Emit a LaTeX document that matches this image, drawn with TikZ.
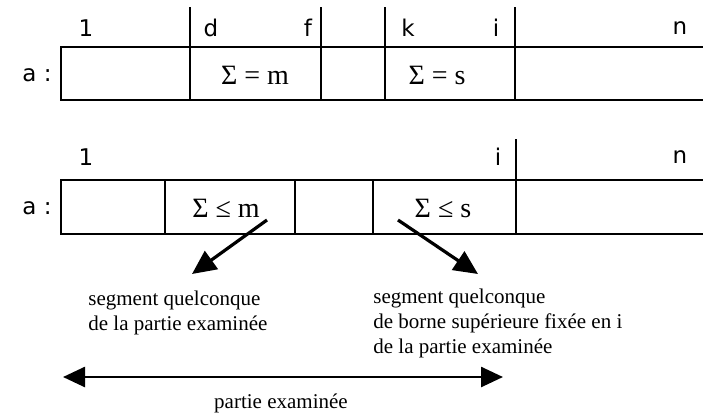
\documentclass[tikz,border=0pt]{standalone}
\usepackage{fontspec}
\setmainfont{Liberation Serif}
\newfontfamily\idxfont{DejaVu Sans}
\usetikzlibrary{arrows.meta,positioning}
\tikzset{
  cell/.style={line width=1.1pt},
  idx/.style={font=\idxfont\fontsize{11.5}{13}\selectfont, inner sep=0pt},
  sumlab/.style={font=\fontsize{14}{16}\selectfont, inner sep=0pt},
  note/.style={align=left, inner sep=0pt, font=\fontsize{10.5}{12.5}\selectfont},
  pointer/.style={line width=1.6pt, -{Triangle[length=12pt,width=11pt]}},
  span/.style={line width=1.3pt, {Triangle[length=11pt,width=10pt]}-{Triangle[length=11pt,width=10pt]}},
}
\begin{document}
\begin{tikzpicture}[x=0.5pt,y=-0.5pt]
  \useasboundingbox (0,0) rectangle (703,414);
  % first array: sum m on d..f, sum s on k..i
  \draw[cell] (703,47) -- (61,47) -- (61,100) -- (703,100);
  \foreach \xx in {190,321,385,515}
    \draw[cell] (\xx,7) -- (\xx,100);
  \foreach \xx/\lab in {86/1, 211/d, 308/f, 408/k, 496/i, 680/n}
    \node[idx] (top-\lab) at (\xx,28) {\lab};
  \node[idx] (arrA) at (37,75) {a :};
  \node[sumlab] (summ) at (255,75) {Σ = m};
  \node[sumlab] (sums) at (437,75) {Σ = s};

  % second array: examined part 1..i
  \draw[cell] (703,180) -- (61,180) -- (61,234) -- (703,234);
  \foreach \xx in {165,295,373}
    \draw[cell] (\xx,180) -- (\xx,234);
  \draw[cell] (516,139) -- (516,234);
  \foreach \xx/\lab in {86/1, 498/i, 680/n}
    \node[idx] (bot-\lab) at (\xx,157) {\lab};
  \node[idx] (arrB) at (37,208) {a :};
  \node[sumlab] (lem) at (226,208) {Σ ≤ m};
  \node[sumlab] (les) at (443,208) {Σ ≤ s};

  % comments under the cells
  \node[note, anchor=north west] (lnote) at (88,291)
    {segment quelconque\\de la partie examinée};
  \node[note, anchor=north west] (rnote) at (373,289)
    {segment quelconque\\de borne supérieure fixée en i\\de la partie examinée};
  \coordinate (mtail) at (267,220);
  \coordinate (mhead) at (192,274);
  \coordinate (stail) at (398,220);
  \coordinate (shead) at (478,274);
  \draw[pointer] (mtail) -- (mhead);
  \draw[pointer] (stail) -- (shead);

  % extent of the examined part
  \coordinate (spanl) at (63,377);
  \coordinate (spanr) at (503,377);
  \draw[span] (spanl) -- (spanr);
  \node[note] (spanlab) at (281,403) {partie examinée};
\end{tikzpicture}
\end{document}
